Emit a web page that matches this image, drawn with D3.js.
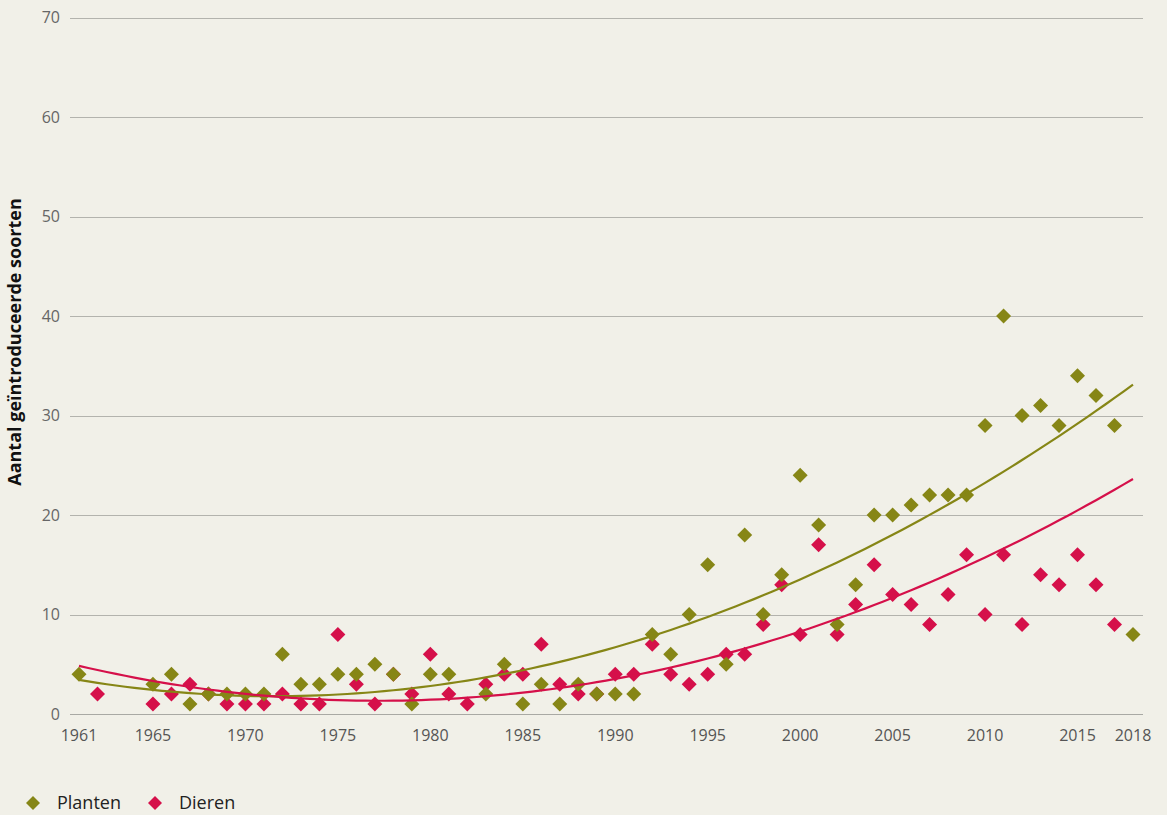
<!DOCTYPE html>
<html>
<head>
<meta charset="utf-8">
<script src="https://cdn.jsdelivr.net/npm/d3@7"></script>
<style>
  html, body { margin: 0; padding: 0; background: #f1f0e8; }
  svg { display: block; font-family: "Open Sans", "Noto Sans", sans-serif; }
</style>
</head>
<body>
<svg id="chart" width="1167" height="815"></svg>
<script>
// Number of introduced species per year, plants and animals
const plantYears = [1961,1965,1966,1967,1968,1969,1970,1971,1972,1973,1974,1975,1976,1977,1978,1979,1980,1981,1983,1984,1985,1986,1987,1988,1989,1990,1991,1992,1993,1994,1995,1996,1997,1998,1999,2000,2001,2002,2003,2004,2005,2006,2007,2008,2009,2010,2011,2012,2013,2014,2015,2016,2017,2018];
const plantValues = [4,3,4,1,2,2,2,2,6,3,3,4,4,5,4,1,4,4,2,5,1,3,1,3,2,2,2,8,6,10,15,5,18,10,14,24,19,9,13,20,20,21,22,22,22,29,40,30,31,29,34,32,29,8];

const animalYears = [1962,1965,1966,1967,1968,1969,1970,1971,1972,1973,1974,1975,1976,1977,1978,1979,1980,1981,1982,1983,1984,1985,1986,1987,1988,1989,1990,1991,1992,1993,1994,1995,1996,1997,1998,1999,2000,2001,2002,2003,2004,2005,2006,2007,2008,2009,2010,2011,2012,2013,2014,2015,2016,2017];
const animalValues = [2,1,2,3,2,1,1,1,2,1,1,8,3,1,4,2,6,2,1,3,4,4,7,3,2,2,4,4,7,4,3,4,6,6,9,13,8,17,8,11,15,12,11,9,12,16,10,16,9,14,13,16,13,9];

// Trend curves (second-order), sampled at these years
const trendYears = [1961,1965,1970,1975,1980,1985,1990,1995,2000,2005,2010,2015,2018];
const plantTrend = [3.25,2.6,1.85,1.9,2.75,4.5,6.9,9.9,13.2,17.9,23.0,29.6,33.0];
const animalTrend = [4.7,3.5,1.95,1.35,1.45,2.35,3.7,5.4,8.0,11.7,15.9,20.3,23.75];

const xTickYears = [1961,1965,1970,1975,1980,1985,1990,1995,2000,2005,2010,2015,2018];
const yTicks = [0,10,20,30,40,50,60,70];

const series = [
  { name: "Planten", years: plantYears, values: plantValues, trend: plantTrend, color: "#868616" },
  { name: "Dieren",  years: animalYears, values: animalValues, trend: animalTrend, color: "#d5104a" }
];

const svg = d3.select("#chart");
const x = d3.scaleLinear().domain([1961, 2018]).range([79, 1133]);
const y = d3.scaleLinear().domain([0, 70]).range([714, 17.5]);

// Horizontal gridlines
svg.append("g")
  .selectAll("line")
  .data(yTicks)
  .join("line")
  .attr("x1", 70).attr("x2", 1143)
  .attr("y1", d => Math.round(y(d)) + 0.5)
  .attr("y2", d => Math.round(y(d)) + 0.5)
  .attr("stroke", d => d === 0 ? "#a9a9a4" : "#b3b3ad")
  .attr("stroke-width", 1);

// Y tick labels
svg.append("g")
  .selectAll("text")
  .data(yTicks)
  .join("text")
  .attr("x", 60)
  .attr("y", d => y(d))
  .attr("dy", "0.35em")
  .attr("text-anchor", "end")
  .attr("font-size", 16)
  .attr("fill", "#666")
  .text(d => d);

// X tick labels
svg.append("g")
  .selectAll("text")
  .data(xTickYears)
  .join("text")
  .attr("x", d => x(d))
  .attr("y", 741)
  .attr("text-anchor", "middle")
  .attr("font-size", 16)
  .attr("fill", "#555")
  .text(d => d);

// Y axis title
svg.append("text")
  .attr("transform", "translate(21,342) rotate(-90)")
  .attr("text-anchor", "middle")
  .attr("font-size", 18)
  .attr("font-weight", "bold")
  .attr("fill", "#111")
  .text("Aantal geïntroduceerde soorten");

// Least-squares quadratic through the sampled trend values, for a smooth curve
function quadFit(xs, ys) {
  const x0 = 1990;
  const S = [0,0,0,0,0], T = [0,0,0];
  xs.forEach((xv, i) => {
    const t = xv - x0;
    let p = 1;
    for (let k = 0; k < 5; k++) { S[k] += p; if (k < 3) T[k] += p * ys[i]; p *= t; }
  });
  const M = [[S[0],S[1],S[2],T[0]],[S[1],S[2],S[3],T[1]],[S[2],S[3],S[4],T[2]]];
  for (let c = 0; c < 3; c++) {
    for (let r = c + 1; r < 3; r++) {
      const f = M[r][c] / M[c][c];
      for (let k = c; k < 4; k++) M[r][k] -= f * M[c][k];
    }
  }
  const sol = [0,0,0];
  for (let r = 2; r >= 0; r--) {
    let s = M[r][3];
    for (let k = r + 1; k < 3; k++) s -= M[r][k] * sol[k];
    sol[r] = s / M[r][r];
  }
  return yr => { const t = yr - x0; return sol[0] + sol[1]*t + sol[2]*t*t; };
}

const diamond = "M0,-7.5L7.5,0L0,7.5L-7.5,0Z";

// Points: animals first, plants on top
[series[1], series[0]].forEach(s => {
  const pts = s.years.map((yr, i) => ({ year: yr, value: s.values[i] }));
  svg.append("g")
    .selectAll("path")
    .data(pts)
    .join("path")
    .attr("d", diamond)
    .attr("transform", d => `translate(${x(d.year)},${y(d.value)})`)
    .attr("fill", s.color);
});

// Trend lines
const curveYears = d3.range(1961, 2018.001, 0.5);
series.forEach(s => {
  const f = quadFit(trendYears, s.trend);
  svg.append("path")
    .datum(curveYears)
    .attr("fill", "none")
    .attr("stroke", s.color)
    .attr("stroke-width", 2.2)
    .attr("d", d3.line().x(d => x(d)).y(d => y(f(d))));
});

// Legend
const legend = svg.append("g").attr("transform", "translate(0,803)");
const legendX = [33, 155];
series.forEach((s, i) => {
  legend.append("path")
    .attr("d", "M0,-7L7,0L0,7L-7,0Z")
    .attr("transform", `translate(${legendX[i]},0)`)
    .attr("fill", s.color);
  legend.append("text")
    .attr("x", legendX[i] + 24)
    .attr("y", 0)
    .attr("dy", "0.35em")
    .attr("font-size", 18)
    .attr("fill", "#222")
    .text(s.name);
});
</script>
</body>
</html>
